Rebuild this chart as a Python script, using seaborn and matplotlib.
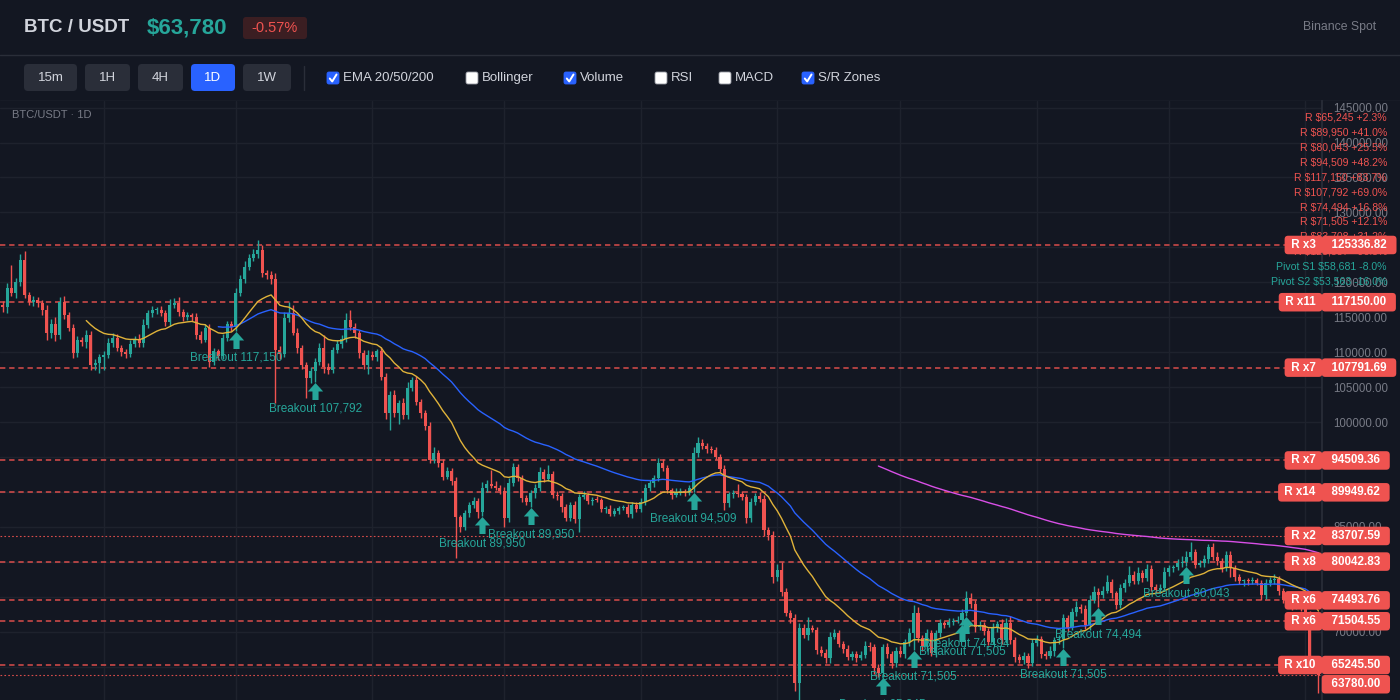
import numpy as np
import pandas as pd
import seaborn as sns
import matplotlib.pyplot as plt
import matplotlib.transforms as mtransforms
from matplotlib.patches import FancyBboxPatch

# daily closes in thousands of USDT (first candle 2025-08-09)
closes = [
    116.4, 119.2, 118.5, 120.0, 123.2, 118.2, 117.2, 117.4, 117.0, 116.0, 112.7, 114.1, 112.4, 117.2, 115.3, 113.4, 109.9, 111.8, 111.4, 112.5,
    108.2, 108.5, 109.3, 109.6, 111.3, 112.1, 110.6, 110.0, 109.8, 111.2, 111.9, 111.3, 113.9, 115.6, 116.0, 116.1, 115.6, 114.3, 116.7, 117.1,
    115.7, 115.0, 115.3, 115.0, 112.5, 111.8, 113.4, 108.6, 110.1, 109.5, 112.0, 114.0, 113.6, 118.5, 120.5, 122.2, 123.5, 124.0, 124.6, 121.3,
    121.0, 120.4, 110.3, 109.8, 114.9, 115.6, 112.8, 110.6, 108.2, 106.3, 107.3, 108.6, 110.6, 107.9, 107.5, 110.3, 111.2, 111.9, 114.6, 113.6,
    112.7, 109.9, 108.1, 109.6, 109.3, 110.1, 106.5, 101.3, 103.9, 101.3, 102.7, 101.0, 104.9, 106.0, 102.9, 101.3, 99.4, 94.6, 95.6, 94.2,
    92.2, 93.0, 91.6, 86.4, 85.0, 87.0, 88.1, 88.7, 87.1, 90.5, 91.2, 90.9, 90.6, 90.2, 86.3, 91.3, 93.6, 92.0, 89.1, 88.6,
    89.8, 90.6, 92.8, 91.8, 92.6, 89.6, 89.4, 87.9, 86.3, 88.1, 86.2, 89.3, 89.6, 88.7, 88.9, 88.8, 87.5, 87.6, 86.9, 87.3,
    87.7, 87.8, 86.9, 88.2, 87.5, 88.6, 90.5, 91.3, 92.0, 94.1, 93.4, 90.3, 89.6, 90.0, 90.1, 89.9, 90.5, 95.6, 97.0, 96.6,
    96.1, 96.0, 95.0, 93.3, 88.4, 89.7, 89.9, 89.7, 89.3, 86.3, 88.6, 89.4, 89.0, 84.6, 83.8, 77.8, 78.8, 75.7, 72.7, 72.0,
    62.7, 70.5, 69.6, 70.5, 70.3, 67.4, 67.0, 66.2, 69.3, 69.8, 68.3, 67.5, 66.4, 66.8, 66.3, 66.7, 68.0, 67.8, 64.8, 64.1,
    67.8, 66.8, 65.5, 67.3, 66.8, 68.5, 69.8, 72.7, 69.1, 67.9, 69.8, 67.0, 69.8, 71.2, 71.0, 71.4, 71.6, 71.7, 72.7, 74.8,
    74.0, 70.7, 71.0, 70.1, 68.6, 70.6, 71.1, 68.8, 71.3, 68.8, 66.4, 66.0, 66.6, 65.6, 68.4, 69.0, 66.8, 66.6, 67.3, 68.8,
    69.0, 71.9, 70.6, 72.8, 73.5, 73.3, 70.9, 74.5, 75.7, 75.3, 75.9, 77.1, 75.5, 73.8, 76.3, 77.0, 78.1, 77.3, 78.4, 77.7,
    79.0, 76.4, 76.0, 76.3, 78.6, 79.1, 79.2, 79.8, 80.0, 80.7, 81.4, 79.6, 79.8, 80.4, 82.1, 80.7, 80.1, 79.1, 81.0, 79.1,
    77.8, 77.2, 77.3, 77.2, 77.4, 77.0, 75.2, 77.0, 77.4, 77.6, 75.8, 74.6, 74.0, 73.6, 73.9, 73.5, 72.6, 65.7, 65.0, 63.78,
]
first_open = 116.8

# wick lengths above / below the body, thousands
wick_up = [
    .5, .7, 3.3, .6, .9, 1.3, .4, .6, .5, .4, .8, .6, .9, .7, .8, .5, .6, .5, .4, .7,
    .6, .5, .4, .5, .7, .6, .5, .4, .5, .6, .4, .7, .8, .5, .6, .4, .5, .4, .9, .6,
    .8, .5, .4, .3, .6, .5, .7, .6, .5, .4, .6, .5, .4, .7, .6, .8, .5, .8, 1.5, .7,
    .5, .6, .9, .6, .8, 1.6, 1.2, .6, .5, .4, .6, .5, .7, 1.8, .5, .4, .6, .5, 1.0, 1.4,
    .6, .5, .4, .7, .5, .4, .6, .5, .6, .7, .4, .8, .9, .5, .6, .4, .5, .6, .8, .4,
    .5, .6, .4, .5, .3, .4, .5, .6, .4, .9, .5, 1.9, .6, .4, .5, .7, .6, .4, .5, .4,
    .5, .6, .8, .5, 1.2, .4, .6, .5, .4, .5, .6, .4, .5, .3, .4, .5, .3, .4, .5, .4,
    .3, .4, .5, .3, .4, .5, .6, .4, .5, .8, .6, .4, .3, .5, .4, .3, .5, .9, .9, .6,
    .4, .5, .4, .5, .6, .3, .4, 1.2, .5, .4, .5, .4, .6, .5, .4, .6, .9, 1.2, .5, .4,
    .5, .7, .6, 1.6, .5, .4, .6, .5, .7, .6, .5, .4, .6, .5, .4, .6, .7, .5, .4, .6,
    .5, .6, .4, .5, .6, .5, .7, 1.1, .8, .5, .6, .4, .5, .6, .4, .5, .4, .5, .6, 1.1,
    .7, .5, .6, .4, .5, .6, .5, .7, .6, .9, .5, .4, .5, .4, .6, .5, .4, .5, .6, .5,
    .6, .7, .5, .6, .9, .5, .6, .7, .8, .5, .6, 1.0, .5, .4, .6, .5, 1.3, .6, .8, .5,
    .7, .6, .4, .5, .6, .5, .4, .6, .8, .9, 1.4, .5, .4, .6, .5, .6, .7, .4, .6, .5,
    .4, .5, .3, .4, .5, .3, .4, .5, .4, .6, .4, .5, .3, .4, .5, .4, .5, .3, .6, .4,
]
wick_dn = [
    .6, .8, .5, .7, .6, .5, .4, .6, .5, .7, .9, .6, .8, .5, .6, .4, .7, .6, .5, .8,
    .7, .8, 1.5, 1.8, .5, .6, .4, .5, .6, .5, .4, .6, .5, .4, .6, .5, .4, .6, .5, .4,
    .5, .6, .4, .5, .6, .5, .4, .7, .5, .6, .5, .4, .6, .5, .4, .6, .5, .4, .5, .6,
    .5, .6, 7.6, .8, .5, .6, .4, .7, .6, 2.9, .7, 1.5, .5, .9, .6, .5, .4, .6, .5, .4,
    .6, .7, .5, 1.2, .4, .6, .5, .8, 2.4, .6, 1.6, .5, .6, .4, .5, .7, .6, .5, .4, .6,
    .5, .4, .6, 5.8, .7, .5, .6, .4, .8, .6, .5, .4, .3, .5, 1.3, .6, .4, .5, .6, .5,
    .8, .6, .5, .4, .3, .5, .6, .7, .5, .4, .6, 1.9, .3, .4, .5, .3, .4, .5, .4, .3,
    .4, .3, .5, .6, .4, .3, .5, .4, .6, .5, .4, .5, .6, .3, .4, .5, .4, .5, .6, .4,
    .5, .4, .3, .5, 1.0, .6, .5, .4, .5, .7, .6, .4, .5, .9, .6, .8, .5, .6, .5, .7,
    1.2, 2.8, .5, .8, .4, .6, .5, .7, .6, .4, .5, .6, .4, .5, .6, .4, .5, .6, .8, .5,
    .6, .5, .7, .6, .4, .5, .6, 2.4, .5, .7, .6, .5, .6, .5, .4, .3, .5, .4, .6, .5,
    .6, .7, .5, .6, .5, .4, .6, .5, .4, .6, .7, .5, .6, .8, .5, .4, .6, .5, .4, .7,
    .6, 1.3, .6, .4, .5, .6, .5, .7, .4, 1.8, .5, .4, .6, .5, .4, .6, .5, .4, .5, .6,
    .5, .6, .5, .4, .5, .6, .5, .4, .5, .6, .4, .5, .4, .5, .6, .4, .5, .6, .4, 1.2,
    .5, .4, .6, .5, .4, .3, .6, .5, .4, .5, .6, .5, .4, .5, .4, .5, .6, .7, .9, 2.5,
]

sr_levels = [125336.82, 117150.00, 107791.69, 94509.36, 89949.62, 83707.59, 80042.83, 74493.76, 71504.55, 65245.50]
sr_touches = [3, 11, 7, 7, 14, 2, 8, 6, 6, 10]
last_price = 63780.00
change_pct = -0.57

breakout_idx = [53, 71, 109, 120, 157, 200, 207, 218, 219, 241, 249, 269]
breakout_lvl = ["117,150", "107,792", "89,950", "89,950", "94,509", "65,245",
                "71,505", "71,505", "74,494", "71,505", "74,494", "80,043"]

side_labels = ["R $65,245 +2.3%", "R $89,950 +41.0%", "R $80,043 +25.5%", "R $94,509 +48.2%",
               "R $117,150 +83.7%", "R $107,792 +69.0%", "R $74,494 +16.8%", "R $71,505 +12.1%",
               "R $83,708 +31.2%", "R $125,337 +96.5%"]
pivot_labels = ["Pivot S1 $58,681 -8.0%", "Pivot S2 $53,563 -16.0%"]

timeframes = ["15m", "1H", "4H", "1D", "1W"]
active_tf = "1D"
toggles = ["EMA 20/50/200", "Bollinger", "Volume", "RSI", "MACD", "S/R Zones"]
toggle_on = [True, False, True, False, False, True]

BG = "#131722"
GRID = "#1e222d"
BORDER = "#2a2e39"
TXT = "#d1d4dc"
MUTED = "#787b86"
UP = "#26a69a"
DOWN = "#ef5350"

sns.set_theme(style="dark", rc={"axes.facecolor": BG, "figure.facecolor": BG})
plt.rcParams["font.family"] = ["Liberation Sans", "DejaVu Sans"]

df = pd.DataFrame({
    "date": pd.date_range("2025-08-09", periods=len(closes), freq="D"),
    "close": np.array(closes) * 1000,
})
df["open"] = df["close"].shift(1).fillna(first_open * 1000)
df["high"] = df[["open", "close"]].max(axis=1) + np.array(wick_up) * 1000
df["low"] = df[["open", "close"]].min(axis=1) - np.array(wick_dn) * 1000
df["i"] = np.arange(len(df))
for n in (20, 50, 200):
    e = df["close"].ewm(span=n, adjust=False).mean()
    e.iloc[:n - 1] = np.nan
    df[f"ema{n}"] = e

fig = plt.figure(figsize=(14, 7), dpi=100, facecolor=BG)
ax = fig.add_axes([0, 0, 1322 / 1400, 599 / 700])
ax.set_facecolor(BG)

# candles
up = df["close"] >= df["open"]
colors = np.where(up, UP, DOWN)
ax.vlines(df["i"], df["low"], df["high"], colors=colors, lw=1, zorder=3)
body_lo = df[["open", "close"]].min(axis=1)
body_h = (df["close"] - df["open"]).abs().clip(lower=150)
ax.bar(df["i"], body_h, bottom=body_lo, width=0.7, color=colors, lw=0, zorder=4)

# EMAs
for col, c in [("ema200", "#d84fe6"), ("ema50", "#2962ff"), ("ema20", "#e0b33a")]:
    sns.lineplot(data=df, x="i", y=col, color=c, lw=1.0, ax=ax, zorder=5)

# S/R zones
box = dict(boxstyle="round,pad=0.28,rounding_size=0.3", fc=DOWN, ec="none")
lab_kw = dict(xycoords=("axes fraction", "data"), textcoords="offset pixels", va="center",
              fontsize=8.4, color="white", fontweight="bold", zorder=20, annotation_clip=False)
for lvl, n in zip(sr_levels, sr_touches):
    weak = n <= 2
    ax.axhline(lvl, color=DOWN, lw=0.8 if weak else 1.1,
               ls=(0, (1.5, 2)) if weak else (0, (3.5, 2.5)), alpha=0.9, zorder=2)
    ax.annotate(f" R x{n} ", xy=(1, lvl), xytext=(-3, 0), ha="right", bbox=box, **lab_kw)
    ax.annotate(f"  {lvl:.2f}  ", xy=(1, lvl), xytext=(3, 0), ha="left", bbox=box, **lab_kw)

ax.axhline(last_price, color=DOWN, lw=0.8, ls=(0, (1.5, 2)), alpha=0.9, zorder=2)
ax.annotate(f"  {last_price:.2f}  ", xy=(1, last_price), xytext=(3, -9), ha="left", bbox=box, **lab_kw)

# breakout markers
arrow = [(0, 0.5), (0.45, 0), (0.18, 0), (0.18, -0.5), (-0.18, -0.5), (-0.18, 0), (-0.45, 0), (0, 0.5)]
shift = ax.transData + mtransforms.ScaledTranslation(0, -0.09, fig.dpi_scale_trans)
bo = df.loc[breakout_idx]
ax.scatter(bo["i"], bo["low"], marker=arrow, s=150, color=UP, lw=0, transform=shift, zorder=6)
for i, lvl in zip(breakout_idx, breakout_lvl):
    ax.annotate(f"Breakout {lvl}", xy=(i, df.loc[i, "low"]), xytext=(0, -27), textcoords="offset pixels",
                ha="center", va="center", fontsize=8.5, color=UP, zorder=7, annotation_clip=False)

# stacked level list top right
for k, t in enumerate(side_labels + pivot_labels):
    ax.annotate(t, xy=(1387, 700 - (117.7 + 14.9 * k)), xycoords="figure pixels", ha="right", va="center",
                fontsize=7.6, color=DOWN if t.startswith("R ") else UP, zorder=8)

ax.annotate("BTC/USDT · 1D", xy=(12, 700 - 115), xycoords="figure pixels", va="center",
            fontsize=8, color=MUTED)

# axes
ax.set_xlim(-0.6, 299.8)
ax.set_ylim(60238, 145938)
ax.yaxis.tick_right()
ax.set_yticks(np.arange(65000, 150000, 5000))
ax.yaxis.set_major_formatter(lambda v, p: f"{v:.2f}")
ax.tick_params(axis="y", length=0, pad=8, labelsize=8.3, labelcolor=MUTED)
ax.set_xticks(df.index[df["date"].dt.day == 1])
ax.set_xticklabels([])
ax.tick_params(axis="x", length=0)
ax.grid(True, color=GRID, lw=1)
ax.set_axisbelow(True)
ax.set_xlabel("")
ax.set_ylabel("")
for s in ["top", "left", "bottom"]:
    ax.spines[s].set_visible(False)
ax.spines["right"].set_color(BORDER)

# header + toolbar
hdr = fig.add_axes([0, 599 / 700, 1, 101 / 700])
hdr.set_xlim(0, 1400)
hdr.set_ylim(101, 0)
hdr.axis("off")
hdr.axhline(55, color=BORDER, lw=1)
hdr.axhline(100.5, color=BORDER, lw=1)
hdr.text(24, 28, "BTC / USDT", fontsize=13.5, fontweight="bold", color=TXT, va="center")
hdr.text(147, 28, f"${last_price:,.0f}", fontsize=16, fontweight="bold", color=UP, va="center")
hdr.add_patch(FancyBboxPatch((243, 17), 64, 22, boxstyle="round,pad=0,rounding_size=3",
                             fc="#3b1e22", ec="none"))
hdr.text(275, 28, f"{change_pct:.2f}%", ha="center", va="center", fontsize=10.5, color=DOWN)
hdr.text(1376, 27, "Binance Spot", ha="right", va="center", fontsize=8.8, color=MUTED)

btn_x = [24, 85, 138, 191, 243]
btn_w = [53, 45, 45, 44, 48]
for t, x, w in zip(timeframes, btn_x, btn_w):
    hdr.add_patch(FancyBboxPatch((x, 64), w, 27, boxstyle="round,pad=0,rounding_size=4",
                                 fc="#2962ff" if t == active_tf else BORDER, ec="none"))
    hdr.text(x + w / 2, 78, t, ha="center", va="center", fontsize=9.5, color=TXT if t != active_tf else "white")
hdr.plot([304, 304], [66, 90], color=BORDER, lw=1)

box_x = [327, 466, 564, 655, 719, 802]
for t, on, x in zip(toggles, toggle_on, box_x):
    hdr.add_patch(FancyBboxPatch((x, 72), 12, 12, boxstyle="round,pad=0,rounding_size=2",
                                 fc="#2962ff" if on else "white", ec="#2962ff" if on else "#9598a1", lw=0.6))
    if on:
        hdr.plot([x + 2.8, x + 5.2, x + 9.5], [78.5, 81.5, 74.5], color="white", lw=1.4,
                 solid_capstyle="round")
    hdr.text(x + 16, 78, t, va="center", fontsize=9.5, color=TXT)

fig.savefig("out.png", dpi=100, facecolor=BG)
